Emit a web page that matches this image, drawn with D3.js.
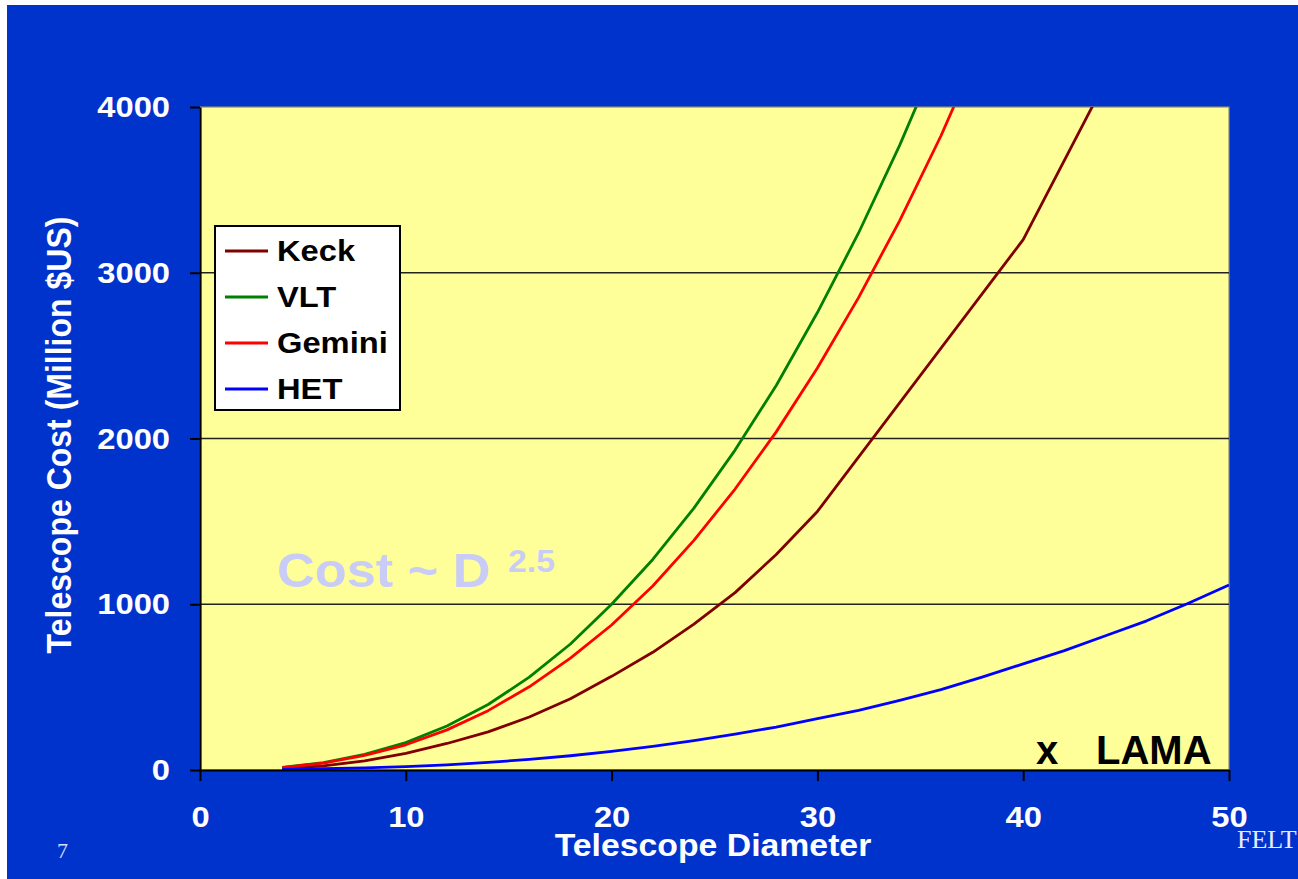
<!DOCTYPE html>
<html>
<head>
<meta charset="utf-8">
<script src="https://cdn.jsdelivr.net/npm/d3@7/dist/d3.min.js"></script>
<style>
  html, body { margin: 0; padding: 0; background: #ffffff; }
  svg { display: block; }
  text { font-family: "Liberation Sans", Arial, sans-serif; }
  text.serif { font-family: "Liberation Serif", "DejaVu Serif", serif; }
</style>
</head>
<body>
<svg id="chart" width="1298" height="879"></svg>
<script>
// Telescope cost (million $US) against aperture diameter (m), per cost model
const diameterSteps = [4, 6, 8, 10, 12, 14, 16, 18, 20, 22, 24, 26, 28, 30, 32, 34, 36, 38, 40, 42, 44, 46, 48, 50];
const keckDiameters = [4, 6, 8, 10, 12, 14, 16, 18, 20, 22, 24, 26, 28, 30, 40, 50];
const keckCost   = [10, 25, 55, 100, 160, 230, 320, 430, 565, 710, 880, 1070, 1300, 1560, 3200, 5590];
const vltCost    = [15, 45, 95, 165, 265, 395, 560, 760, 1000, 1270, 1580, 1930, 2320, 2760, 3240, 3770, 4350];
const geminiCost = [14, 42, 88, 152, 242, 358, 502, 675, 875, 1110, 1385, 1695, 2040, 2425, 2850, 3315, 3825, 4390];
const hetCost    = [3, 8, 13, 20, 31, 46, 64, 86, 112, 142, 177, 216, 259, 310, 360, 420, 485, 560, 640, 720, 810, 900, 1005, 1116];

const seriesNames  = ["Keck", "VLT", "Gemini", "HET"];
const seriesColors = ["#800000", "#008000", "#ff0000", "#0000ff"];

const xTicks = [0, 10, 20, 30, 40, 50];
const yTicks = [0, 1000, 2000, 3000, 4000];
const gridValues = [1000, 2000, 3000];

const series = [
  { name: seriesNames[0], color: seriesColors[0], xs: keckDiameters, ys: keckCost },
  { name: seriesNames[1], color: seriesColors[1], xs: diameterSteps, ys: vltCost },
  { name: seriesNames[2], color: seriesColors[2], xs: diameterSteps, ys: geminiCost },
  { name: seriesNames[3], color: seriesColors[3], xs: diameterSteps, ys: hetCost }
].map(s => ({ ...s, points: s.ys.map((v, i) => ({ d: s.xs[i], c: v })) }));

const svg = d3.select("#chart");
const W = 1298, H = 879;
const plot = { left: 200, right: 1229, top: 107, bottom: 770 };
const stretch = 1.09;   // slide text is set slightly wide
const white = "#ffffff";

// slide background
svg.append("rect").attr("x", 7).attr("y", 5).attr("width", W - 7).attr("height", H - 5).attr("fill", "#0033cc");

const x = d3.scaleLinear().domain([0, 50]).range([plot.left, plot.right]);
const y = d3.scaleLinear().domain([0, 4000]).range([plot.bottom, plot.top]);

// plot area
svg.append("rect")
  .attr("x", plot.left).attr("y", plot.top)
  .attr("width", plot.right - plot.left).attr("height", plot.bottom - plot.top)
  .attr("fill", "#ffff99").attr("stroke", "#8a8a70").attr("stroke-width", 1.2);

// horizontal gridlines
svg.append("g").selectAll("line").data(gridValues).join("line")
  .attr("x1", plot.left).attr("x2", plot.right)
  .attr("y1", d => y(d)).attr("y2", d => y(d))
  .attr("stroke", "#222").attr("stroke-width", 1.6);

// curves, clipped to the plot area
svg.append("clipPath").attr("id", "plotClip").append("rect")
  .attr("x", plot.left).attr("y", plot.top)
  .attr("width", plot.right - plot.left).attr("height", plot.bottom - plot.top);

const line = d3.line().x(p => x(p.d)).y(p => y(p.c));
svg.append("g").attr("clip-path", "url(#plotClip)")
  .selectAll("path").data(series).join("path")
  .attr("d", s => line(s.points))
  .attr("fill", "none").attr("stroke", s => s.color).attr("stroke-width", 2.8)
  .attr("stroke-linejoin", "round");

// axes
const yAxis = d3.axisLeft(y).tickValues(yTicks).tickSize(10).tickSizeOuter(0).tickPadding(17.5).tickFormat(d3.format("d"));
const xAxis = d3.axisBottom(x).tickValues(xTicks).tickSize(11).tickSizeOuter(0).tickPadding(25).tickFormat(d3.format("d"));

function styleAxis(g) {
  g.select(".domain").attr("stroke", "#000").attr("stroke-width", 2.2);
  g.selectAll(".tick line").attr("stroke", "#000").attr("stroke-width", 2);
  g.selectAll(".tick text")
    .attr("fill", white).attr("font-size", 30).attr("font-weight", "bold")
    .attr("transform", `scale(${stretch},1)`);
}
svg.append("g").attr("transform", `translate(${plot.left},0)`).call(yAxis).call(styleAxis);
svg.append("g").attr("transform", `translate(0,${plot.bottom})`).call(xAxis).call(styleAxis);

// helper for horizontally widened text
function wideText(parent, str, px, py, opts = {}) {
  const g = parent.append("g").attr("transform", `translate(${px},${py}) scale(${stretch},1)`);
  return g.append("text")
    .attr("text-anchor", opts.anchor || "start")
    .attr("font-size", opts.size || 30)
    .attr("font-weight", opts.weight || "bold")
    .attr("fill", opts.fill || white)
    .text(str);
}

// axis titles
wideText(svg, "Telescope Diameter", 713, 856, { anchor: "middle", size: 31 });
{
  const g = svg.append("g").attr("transform", `translate(71,435) scale(${stretch},1) rotate(-90)`);
  g.append("text").attr("text-anchor", "middle").attr("font-size", 32).attr("font-weight", "bold")
    .attr("fill", white).text("Telescope Cost (Million $US)");
}

// legend
const legend = svg.append("g");
legend.append("rect").attr("x", 215).attr("y", 226).attr("width", 185).attr("height", 184)
  .attr("fill", "#ffffff").attr("stroke", "#000").attr("stroke-width", 2);
series.forEach((s, i) => {
  const ly = 251 + i * 46;
  legend.append("line").attr("x1", 225).attr("x2", 268).attr("y1", ly).attr("y2", ly)
    .attr("stroke", s.color).attr("stroke-width", 3);
  wideText(legend, s.name, 277, ly + 10, { fill: "#000", size: 30 });
});

// scaling-law annotation
wideText(svg, "Cost ~ D", 277, 587, { fill: "#c8ccf6", size: 48 });
wideText(svg, "2.5", 508, 572, { fill: "#c8ccf6", size: 31 });

// LAMA marker
svg.append("text").attr("x", 1036).attr("y", 764).attr("font-size", 40).attr("font-weight", "bold")
  .attr("fill", "#000").text("x");
svg.append("text").attr("x", 1096).attr("y", 764).attr("font-size", 40).attr("font-weight", "bold")
  .attr("fill", "#000").text("LAMA");

// slide footer
svg.append("text").attr("class", "serif").attr("x", 57).attr("y", 858).attr("font-size", 22)
  .attr("fill", "#d8dcff").text("7");
svg.append("text").attr("class", "serif").attr("x", 1237).attr("y", 848).attr("font-size", 26)
  .attr("fill", "#e8ecff").text("FELT");
</script>
</body>
</html>
